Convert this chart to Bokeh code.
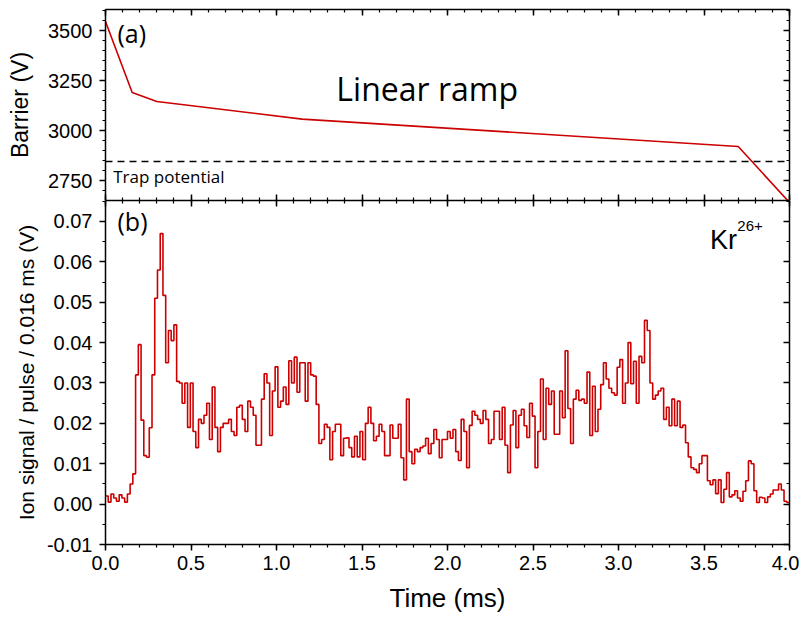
from bokeh.plotting import figure
from bokeh.models import (Range1d, LinearAxis, SingleIntervalTicker,
                          NumeralTickFormatter, CustomJSTickFormatter, Label, Span)
from bokeh.layouts import column
from bokeh.embed import file_html
from bokeh.resources import INLINE

# ---------------- data ----------------
# (a) barrier ramp (ms, V)
ramp_t = [0.0, 0.156, 0.30, 1.15, 3.70, 4.0]
ramp_v = [3545, 3190, 3145, 3057, 2920, 2640]
trap_potential = 2845

# (b) ion signal histogram, bin width 0.016 ms (V)
BIN_MS = 0.016
signal = [
    0.0020, 0.0005, 0.0025, 0.0015, 0.0007, 0.0023, 0.0015, 0.0005, 0.0025, 0.0050,
    0.0075, 0.0320, 0.0395, 0.0208, 0.0120, 0.0116, 0.0189, 0.0320, 0.0510, 0.0580,
    0.0670, 0.0517, 0.0350, 0.0430, 0.0405, 0.0444, 0.0304, 0.0300, 0.0250, 0.0300,
    0.0190, 0.0300, 0.0180, 0.0140, 0.0210, 0.0200, 0.0220, 0.0250, 0.0160, 0.0290,
    0.0190, 0.0130, 0.0190, 0.0200, 0.0200, 0.0210, 0.0180, 0.0170, 0.0240, 0.0245,
    0.0210, 0.0180, 0.0255, 0.0240, 0.0220, 0.0146, 0.0146, 0.0260, 0.0323, 0.0300,
    0.0170, 0.0280, 0.0340, 0.0240, 0.0255, 0.0290, 0.0247, 0.0355, 0.0300, 0.0364,
    0.0277, 0.0350, 0.0350, 0.0255, 0.0350, 0.0320, 0.0317, 0.0247, 0.0150, 0.0160,
    0.0198, 0.0190, 0.0110, 0.0180, 0.0198, 0.0198, 0.0120, 0.0163, 0.0164, 0.0140,
    0.0117, 0.0168, 0.0117, 0.0180, 0.0110, 0.0200, 0.0240, 0.0200, 0.0157, 0.0168,
    0.0198, 0.0180, 0.0120, 0.0120, 0.0196, 0.0163, 0.0163, 0.0198, 0.0115, 0.0060,
    0.0260, 0.0130, 0.0100, 0.0136, 0.0130, 0.0140, 0.0144, 0.0163, 0.0125, 0.0150,
    0.0185, 0.0160, 0.0115, 0.0160, 0.0160, 0.0180, 0.0163, 0.0185, 0.0130, 0.0108,
    0.0210, 0.0180, 0.0090, 0.0195, 0.0230, 0.0220, 0.0210, 0.0200, 0.0232, 0.0210,
    0.0150, 0.0160, 0.0230, 0.0230, 0.0160, 0.0240, 0.0146, 0.0078, 0.0196, 0.0232,
    0.0140, 0.0220, 0.0235, 0.0194, 0.0165, 0.0250, 0.0218, 0.0090, 0.0180, 0.0310,
    0.0160, 0.0287, 0.0247, 0.0280, 0.0173, 0.0173, 0.0280, 0.0214, 0.0380, 0.0237,
    0.0150, 0.0260, 0.0282, 0.0257, 0.0260, 0.0250, 0.0327, 0.0170, 0.0292, 0.0180,
    0.0235, 0.0296, 0.0350, 0.0310, 0.0287, 0.0276, 0.0270, 0.0339, 0.0358, 0.0250,
    0.0300, 0.0400, 0.0298, 0.0354, 0.0250, 0.0366, 0.0350, 0.0455, 0.0430, 0.0300,
    0.0260, 0.0270, 0.0280, 0.0287, 0.0210, 0.0240, 0.0194, 0.0260, 0.0194, 0.0255,
    0.0190, 0.0196, 0.0152, 0.0117, 0.0090, 0.0086, 0.0078, 0.0100, 0.0120, 0.0120,
    0.0058, 0.0048, 0.0060, 0.0026, 0.0060, 0.0004, 0.0037, 0.0078, 0.0018, 0.0023,
    0.0033, 0.0015, 0.0007, 0.0032, 0.0058, 0.0107, 0.0100, 0.0033, 0.0004, 0.0017,
    0.0015, 0.0004, 0.0018, 0.0025, 0.0035, 0.0035, 0.0050, 0.0035, 0.0007, 0.0004,
]

RED = "#cc0000"
TICK_FONT = "'Liberation Sans', Arial, sans-serif"
X_TICK_FONT = "'Liberation Sans Narrow', 'Liberation Sans', Arial, sans-serif"
ANN_FONT = "'Open Sans', sans-serif"

x_range = Range1d(0, 4)
BLANK = CustomJSTickFormatter(code="return '';")


def style_axis(ax, inward, labels=True, font=TICK_FONT, size="20px"):
    ax.axis_line_width = 1.5
    ax.axis_line_color = "black"
    ax.major_tick_line_width = 1.5
    ax.minor_tick_line_width = 1.2
    ax.major_tick_line_color = "black"
    ax.minor_tick_line_color = "black"
    if inward:
        ax.major_tick_in, ax.major_tick_out = 6, 0
        ax.minor_tick_in, ax.minor_tick_out = 3, 0
    else:
        ax.major_tick_in, ax.major_tick_out = 0, 6
        ax.minor_tick_in, ax.minor_tick_out = 0, 3
    if labels:
        ax.major_label_text_font = font
        ax.major_label_text_font_size = size
        ax.major_label_text_color = "black"
    else:
        ax.formatter = BLANK
        ax.major_label_standoff = 0
        ax.axis_label = None


def label(x, y, text, size, font=ANN_FONT):
    return Label(x=x, y=y, text=text, text_font=font, text_font_size=size,
                 text_color="black", text_baseline="alphabetic")


# ---------------- top panel ----------------
p1 = figure(width=799, height=200, x_range=x_range, y_range=Range1d(2650, 3605),
            output_backend="svg", toolbar_location=None,
            min_border_left=105, min_border_right=10, min_border_top=9, min_border_bottom=0)
p1.grid.visible = False
p1.outline_line_color = None

xt1 = SingleIntervalTicker(interval=0.5, num_minor_ticks=5)
yt1 = SingleIntervalTicker(interval=250, num_minor_ticks=5)
p1.xaxis.ticker = xt1
style_axis(p1.xaxis[0], inward=True, labels=False)
p1.yaxis.ticker = yt1
style_axis(p1.yaxis[0], inward=False)
p1.yaxis.major_label_standoff = 7
p1.yaxis.axis_label = "Barrier (V)"
p1.yaxis.axis_label_text_font = TICK_FONT
p1.yaxis.axis_label_text_font_style = "normal"
p1.yaxis.axis_label_text_font_size = "23px"
p1.yaxis.axis_label_text_color = "black"
p1.yaxis.axis_label_standoff = 12

ax_top1 = LinearAxis(ticker=xt1)
style_axis(ax_top1, inward=True, labels=False)
p1.add_layout(ax_top1, "above")
ax_right1 = LinearAxis(ticker=yt1)
style_axis(ax_right1, inward=True, labels=False)
p1.add_layout(ax_right1, "right")

p1.add_layout(Span(location=trap_potential, dimension="width", line_color="black",
                   line_width=1.3, line_dash="7 5"))
p1.line(ramp_t, ramp_v, line_color=RED, line_width=1.6)

p1.add_layout(label(0.07, 3488, "(a)", "25px"))
p1.add_layout(label(1.35, 3212, "Linear ramp", "32px"))
p1.add_layout(label(0.045, 2772, "Trap potential", "17px"))

# ---------------- bottom panel ----------------
p2 = figure(width=799, height=420, x_range=x_range, y_range=Range1d(-0.01, 0.0752),
            output_backend="svg", toolbar_location=None,
            min_border_left=105, min_border_right=10, min_border_top=0, min_border_bottom=76)
p2.grid.visible = False
p2.outline_line_color = None

xt2 = SingleIntervalTicker(interval=0.5, num_minor_ticks=5)
yt2 = SingleIntervalTicker(interval=0.01, num_minor_ticks=2)
p2.xaxis.ticker = xt2
style_axis(p2.xaxis[0], inward=False, font=X_TICK_FONT, size="20px")
p2.xaxis.formatter = NumeralTickFormatter(format="0.0")
p2.xaxis.major_label_standoff = 5
p2.xaxis.axis_label = "Time (ms)"
p2.xaxis.axis_label_text_font = X_TICK_FONT
p2.xaxis.axis_label_text_font_style = "normal"
p2.xaxis.axis_label_text_font_size = "26px"
p2.xaxis.axis_label_text_color = "black"
p2.xaxis.axis_label_standoff = 10

p2.yaxis.ticker = yt2
style_axis(p2.yaxis[0], inward=False)
p2.yaxis.formatter = NumeralTickFormatter(format="0.00")
p2.yaxis.major_label_standoff = 7
p2.yaxis.axis_label = "Ion signal / pulse / 0.016 ms (V)"
p2.yaxis.axis_label_text_font = TICK_FONT
p2.yaxis.axis_label_text_font_style = "normal"
p2.yaxis.axis_label_text_font_size = "21px"
p2.yaxis.axis_label_text_color = "black"
p2.yaxis.axis_label_standoff = 6

ax_top2 = LinearAxis(ticker=xt2)
style_axis(ax_top2, inward=True, labels=False)
p2.add_layout(ax_top2, "above")
ax_right2 = LinearAxis(ticker=yt2)
style_axis(ax_right2, inward=True, labels=False)
p2.add_layout(ax_right2, "right")

edges = [i * BIN_MS for i in range(len(signal) + 1)]
levels = signal + [signal[-1]]
p2.step(edges, levels, mode="after", line_color=RED, line_width=1.6)

p2.add_layout(label(0.07, 0.0700, "(b)", "25px"))
p2.add_layout(label(3.535, 0.0655, "Kr", "27px", TICK_FONT))
p2.add_layout(label(3.695, 0.0690, "26+", "15px", TICK_FONT))

layout = column(p1, p2, spacing=0)
open("out.html", "w").write(file_html(layout, INLINE))
